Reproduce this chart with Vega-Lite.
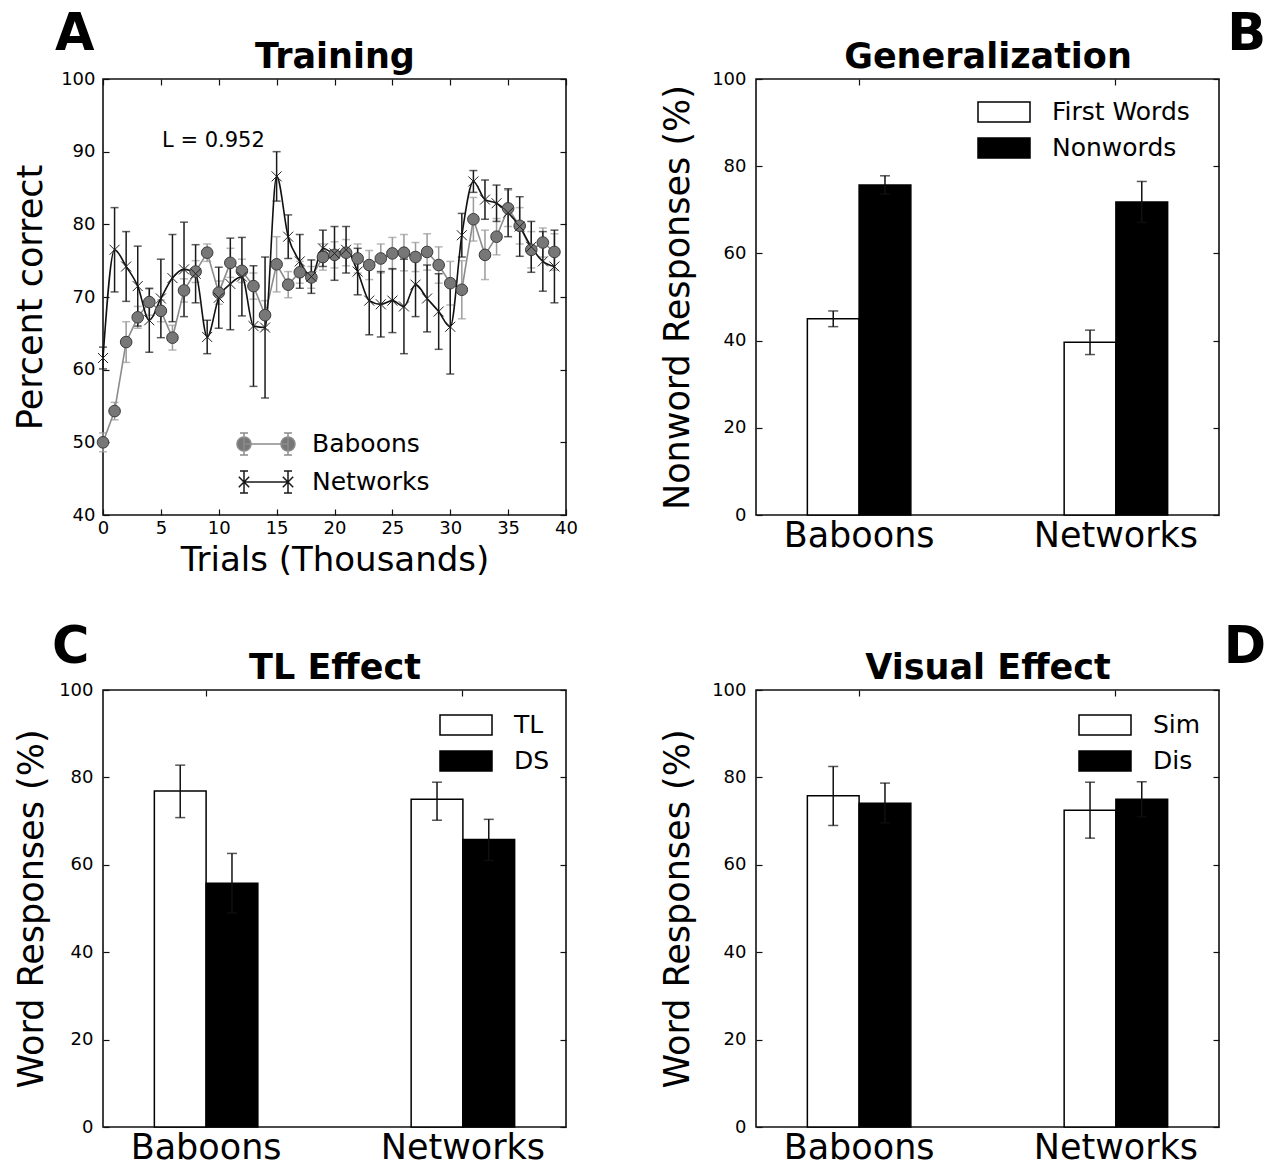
{
  "$schema": "https://vega.github.io/schema/vega-lite/v6.json",
  "background": "white",
  "padding": {"left": 12, "top": 8, "right": 2, "bottom": 2},
  "config": {
    "font": "DejaVu Sans",
    "view": {"stroke": "#111111", "strokeWidth": 1.6},
    "axis": {"domain": false, "grid": false, "tickColor": "#111111", "tickWidth": 1.2, "labelColor": "black", "titleColor": "black", "titleFontWeight": "normal", "labelOverlap": false, "labelFlush": false},
    "title": {"fontSize": 51, "fontWeight": "bold", "color": "black", "offset": 0},
    "legend": {"padding": 0, "labelColor": "black", "labelFont": "DejaVu Sans"}
  },
  "datasets": {
    "training": [
      {"trials": 0, "group": "Baboons", "pct": 50.0, "se": 1.3},
      {"trials": 1, "group": "Baboons", "pct": 54.3, "se": 1.2},
      {"trials": 2, "group": "Baboons", "pct": 63.8, "se": 2.8},
      {"trials": 3, "group": "Baboons", "pct": 67.2, "se": 1.5},
      {"trials": 4, "group": "Baboons", "pct": 69.3, "se": 1.8},
      {"trials": 5, "group": "Baboons", "pct": 68.1, "se": 1.5},
      {"trials": 6, "group": "Baboons", "pct": 64.4, "se": 1.7},
      {"trials": 7, "group": "Baboons", "pct": 70.9, "se": 1.6},
      {"trials": 8, "group": "Baboons", "pct": 73.5, "se": 1.5},
      {"trials": 9, "group": "Baboons", "pct": 76.1, "se": 1.2},
      {"trials": 10, "group": "Baboons", "pct": 70.6, "se": 1.6},
      {"trials": 11, "group": "Baboons", "pct": 74.7, "se": 2.0},
      {"trials": 12, "group": "Baboons", "pct": 73.6, "se": 1.6},
      {"trials": 13, "group": "Baboons", "pct": 71.5, "se": 1.8},
      {"trials": 14, "group": "Baboons", "pct": 67.5, "se": 2.0},
      {"trials": 15, "group": "Baboons", "pct": 74.5, "se": 3.8},
      {"trials": 16, "group": "Baboons", "pct": 71.7, "se": 1.8},
      {"trials": 17, "group": "Baboons", "pct": 73.4, "se": 1.5},
      {"trials": 18, "group": "Baboons", "pct": 72.7, "se": 1.5},
      {"trials": 19, "group": "Baboons", "pct": 75.5, "se": 1.8},
      {"trials": 20, "group": "Baboons", "pct": 75.8, "se": 1.8},
      {"trials": 21, "group": "Baboons", "pct": 76.1, "se": 1.8},
      {"trials": 22, "group": "Baboons", "pct": 75.3, "se": 2.0},
      {"trials": 23, "group": "Baboons", "pct": 74.4, "se": 2.0},
      {"trials": 24, "group": "Baboons", "pct": 75.3, "se": 2.0},
      {"trials": 25, "group": "Baboons", "pct": 76.0, "se": 2.2},
      {"trials": 26, "group": "Baboons", "pct": 76.1, "se": 2.5},
      {"trials": 27, "group": "Baboons", "pct": 75.5, "se": 2.0},
      {"trials": 28, "group": "Baboons", "pct": 76.2, "se": 2.5},
      {"trials": 29, "group": "Baboons", "pct": 74.4, "se": 2.5},
      {"trials": 30, "group": "Baboons", "pct": 71.9, "se": 3.0},
      {"trials": 31, "group": "Baboons", "pct": 71.0, "se": 4.0},
      {"trials": 32, "group": "Baboons", "pct": 80.7, "se": 3.0},
      {"trials": 33, "group": "Baboons", "pct": 75.8, "se": 3.4},
      {"trials": 34, "group": "Baboons", "pct": 78.3, "se": 2.5},
      {"trials": 35, "group": "Baboons", "pct": 82.2, "se": 2.5},
      {"trials": 36, "group": "Baboons", "pct": 79.8, "se": 2.5},
      {"trials": 37, "group": "Baboons", "pct": 76.5, "se": 2.5},
      {"trials": 38, "group": "Baboons", "pct": 77.5, "se": 2.0},
      {"trials": 39, "group": "Baboons", "pct": 76.2, "se": 2.5},
      {"trials": 0, "group": "Networks", "pct": 61.6, "se": 1.5},
      {"trials": 1, "group": "Networks", "pct": 76.5, "se": 5.8},
      {"trials": 2, "group": "Networks", "pct": 74.2, "se": 4.8},
      {"trials": 3, "group": "Networks", "pct": 71.5, "se": 5.5},
      {"trials": 4, "group": "Networks", "pct": 66.8, "se": 4.4},
      {"trials": 5, "group": "Networks", "pct": 69.8, "se": 5.4},
      {"trials": 6, "group": "Networks", "pct": 72.6, "se": 6.0},
      {"trials": 7, "group": "Networks", "pct": 73.8, "se": 6.5},
      {"trials": 8, "group": "Networks", "pct": 73.2, "se": 4.0},
      {"trials": 9, "group": "Networks", "pct": 64.5, "se": 2.3},
      {"trials": 10, "group": "Networks", "pct": 69.9, "se": 4.2},
      {"trials": 11, "group": "Networks", "pct": 71.8, "se": 6.3},
      {"trials": 12, "group": "Networks", "pct": 72.8, "se": 5.4},
      {"trials": 13, "group": "Networks", "pct": 66.0, "se": 8.3},
      {"trials": 14, "group": "Networks", "pct": 65.8, "se": 9.7},
      {"trials": 15, "group": "Networks", "pct": 86.6, "se": 3.4},
      {"trials": 16, "group": "Networks", "pct": 78.3, "se": 3.0},
      {"trials": 17, "group": "Networks", "pct": 74.9, "se": 3.7},
      {"trials": 18, "group": "Networks", "pct": 72.8, "se": 2.3},
      {"trials": 19, "group": "Networks", "pct": 76.7, "se": 2.5},
      {"trials": 20, "group": "Networks", "pct": 76.0, "se": 3.7},
      {"trials": 21, "group": "Networks", "pct": 76.5, "se": 3.2},
      {"trials": 22, "group": "Networks", "pct": 73.5, "se": 3.2},
      {"trials": 23, "group": "Networks", "pct": 69.5, "se": 4.7},
      {"trials": 24, "group": "Networks", "pct": 69.0, "se": 4.5},
      {"trials": 25, "group": "Networks", "pct": 69.5, "se": 4.4},
      {"trials": 26, "group": "Networks", "pct": 68.7, "se": 6.5},
      {"trials": 27, "group": "Networks", "pct": 71.7, "se": 4.4},
      {"trials": 28, "group": "Networks", "pct": 69.8, "se": 4.6},
      {"trials": 29, "group": "Networks", "pct": 68.0, "se": 5.2},
      {"trials": 30, "group": "Networks", "pct": 65.9, "se": 6.5},
      {"trials": 31, "group": "Networks", "pct": 78.5, "se": 3.0},
      {"trials": 32, "group": "Networks", "pct": 85.9, "se": 1.5},
      {"trials": 33, "group": "Networks", "pct": 83.4, "se": 2.7},
      {"trials": 34, "group": "Networks", "pct": 82.9, "se": 2.5},
      {"trials": 35, "group": "Networks", "pct": 81.6, "se": 3.3},
      {"trials": 36, "group": "Networks", "pct": 79.7, "se": 4.1},
      {"trials": 37, "group": "Networks", "pct": 76.9, "se": 3.5},
      {"trials": 38, "group": "Networks", "pct": 74.9, "se": 4.1},
      {"trials": 39, "group": "Networks", "pct": 74.2, "se": 5.0}
    ],
    "note": [{"trials": 5.1, "pct": 91.4, "label": "L = 0.952"}],
    "gen": [
      {"group": "Baboons", "cond": "First Words", "pct": 45.0, "low": 43.2, "high": 46.8},
      {"group": "Baboons", "cond": "Nonwords", "pct": 75.7, "low": 73.6, "high": 77.8},
      {"group": "Networks", "cond": "First Words", "pct": 39.6, "low": 36.8, "high": 42.4},
      {"group": "Networks", "cond": "Nonwords", "pct": 71.8, "low": 67.1, "high": 76.5}
    ],
    "tl": [
      {"group": "Baboons", "cond": "TL", "pct": 76.9, "low": 70.8, "high": 82.8},
      {"group": "Baboons", "cond": "DS", "pct": 55.8, "low": 49.0, "high": 62.6},
      {"group": "Networks", "cond": "TL", "pct": 75.0, "low": 70.2, "high": 78.9},
      {"group": "Networks", "cond": "DS", "pct": 65.8, "low": 61.0, "high": 70.4}
    ],
    "vis": [
      {"group": "Baboons", "cond": "Sim", "pct": 75.8, "low": 69.0, "high": 82.5},
      {"group": "Baboons", "cond": "Dis", "pct": 74.1, "low": 69.6, "high": 78.7},
      {"group": "Networks", "cond": "Sim", "pct": 72.5, "low": 66.1, "high": 78.9},
      {"group": "Networks", "cond": "Dis", "pct": 75.0, "low": 71.0, "high": 79.0}
    ]
  },
  "spacing": 43,
  "resolve": {"scale": {"xOffset": "independent", "fill": "independent", "shape": "independent", "stroke": "independent"}, "legend": {"fill": "independent", "shape": "independent", "stroke": "independent"}},
  "vconcat": [
    {
      "spacing": 80,
      "resolve": {"scale": {"xOffset": "independent", "fill": "independent", "shape": "independent", "stroke": "independent"}, "legend": {"fill": "independent", "shape": "independent", "stroke": "independent"}},
      "hconcat": [
        {
          "width": 463, "height": 436,
          "title": {"text": "A", "anchor": "start", "frame": "group", "dx": -48, "dy": 26},
          "resolve": {"axis": {"x": "independent", "y": "independent"}},
          "layer": [
            {
              "data": {"name": "training"},
              "transform": [{"filter": "datum.group === 'Baboons'"}],
              "mark": {"type": "errorbar", "color": "#9a9a9a", "thickness": 1.5, "ticks": {"size": 8, "thickness": 1.5}},
              "encoding": {
                "x": {"field": "trials", "type": "quantitative", "scale": {"domain": [0, 40], "nice": false, "zero": false},
                      "axis": {"orient": "bottom", "values": [0,5,10,15,20,25,30,35,40], "title": "Trials (Thousands)", "titleFontSize": 34, "labelFontSize": 18, "tickSize": -6, "labelPadding": 10, "titlePadding": 6}},
                "y": {"field": "pct", "type": "quantitative", "scale": {"domain": [40, 100], "nice": false, "zero": false},
                      "axis": {"orient": "left", "values": [40,50,60,70,80,90,100], "title": "Percent correct", "titleFontSize": 35, "labelFontSize": 18, "tickSize": -6, "labelPadding": 14, "titlePadding": 12}},
                "yError": {"field": "se"}
              }
            },
            {
              "data": {"name": "training"},
              "transform": [{"filter": "datum.group === 'Networks'"}],
              "mark": {"type": "errorbar", "color": "#1a1a1a", "thickness": 1.5, "ticks": {"size": 8, "thickness": 1.5}},
              "encoding": {
                "x": {"field": "trials", "type": "quantitative", "axis": null},
                "y": {"field": "pct", "type": "quantitative", "axis": null},
                "yError": {"field": "se"}
              }
            },
            {
              "data": {"name": "training"},
              "transform": [{"filter": "datum.group === 'Baboons'"}],
              "mark": {"type": "line", "color": "#8c8c8c", "strokeWidth": 1.6},
              "encoding": {
                "x": {"field": "trials", "type": "quantitative", "axis": null},
                "y": {"field": "pct", "type": "quantitative", "axis": null}
              }
            },
            {
              "data": {"name": "training"},
              "transform": [{"filter": "datum.group === 'Networks'"}],
              "mark": {"type": "line", "color": "#111111", "strokeWidth": 1.6, "interpolate": "monotone"},
              "encoding": {
                "x": {"field": "trials", "type": "quantitative", "axis": null},
                "y": {"field": "pct", "type": "quantitative", "axis": null}
              }
            },
            {
              "data": {"name": "training"},
              "transform": [{"filter": "datum.group === 'Baboons'"}],
              "mark": {"type": "point", "shape": "circle", "filled": true, "fill": "#777777", "stroke": "#3a3a3a", "strokeWidth": 1, "size": 135, "opacity": 1},
              "encoding": {
                "x": {"field": "trials", "type": "quantitative", "axis": null},
                "y": {"field": "pct", "type": "quantitative", "axis": null}
              }
            },
            {
              "data": {"name": "training"},
              "transform": [{"filter": "datum.group === 'Networks'"}],
              "mark": {"type": "point", "shape": "M-1,-1L1,1M-1,1L1,-1", "filled": false, "stroke": "#222222", "strokeWidth": 1, "size": 100, "opacity": 1},
              "encoding": {
                "x": {"field": "trials", "type": "quantitative", "axis": null},
                "y": {"field": "pct", "type": "quantitative", "axis": null}
              }
            },
            {
              "data": {"name": "note"},
              "mark": {"type": "text", "align": "left", "baseline": "middle", "fontSize": 21, "color": "black"},
              "encoding": {
                "x": {"field": "trials", "type": "quantitative", "axis": null},
                "y": {"field": "pct", "type": "quantitative", "axis": null},
                "text": {"field": "label"}
              }
            },
            {
              "data": {"name": "training"},
              "mark": {"type": "point", "opacity": 0, "filled": true},
              "encoding": {
                "x": {"field": "trials", "type": "quantitative",
                      "axis": {"orient": "top", "values": [0,5,10,15,20,25,30,35,40], "labels": false, "tickSize": -6, "title": "Training", "titleFontSize": 35, "titleFontWeight": "bold", "titlePadding": 4}},
                "y": {"field": "pct", "type": "quantitative",
                      "axis": {"orient": "right", "values": [40,50,60,70,80,90,100], "labels": false, "tickSize": -6, "title": null}},
                "shape": {"field": "group", "type": "nominal",
                          "scale": {"domain": ["Baboons", "Networks"], "range": [
                            "M-1.375,0L1.375,0M-1.375,-0.69L-1.375,0.69M-1.625,-0.69L-1.125,-0.69M-1.625,0.69L-1.125,0.69M1.375,-0.69L1.375,0.69M1.125,-0.69L1.625,-0.69M1.125,0.69L1.625,0.69M-1.815,0A0.44,0.44,0,1,0,-0.935,0A0.44,0.44,0,1,0,-1.815,0ZM0.935,0A0.44,0.44,0,1,0,1.815,0A0.44,0.44,0,1,0,0.935,0Z",
                            "M-1.375,0L1.375,0M-1.375,-0.69L-1.375,0.69M-1.625,-0.69L-1.125,-0.69M-1.625,0.69L-1.125,0.69M1.375,-0.69L1.375,0.69M1.125,-0.69L1.625,-0.69M1.125,0.69L1.625,0.69M-1.7,-0.33L-1.05,0.33M-1.7,0.33L-1.05,-0.33M1.05,-0.33L1.7,0.33M1.05,0.33L1.7,-0.33"]},
                          "legend": {"title": null, "orient": "none", "legendX": 146, "legendY": 348, "symbolSize": 1024, "labelFontSize": 25, "labelOffset": 29, "rowPadding": 6, "symbolOpacity": 1, "symbolStrokeWidth": 1.5}},
                "fill": {"field": "group", "type": "nominal", "scale": {"domain": ["Baboons", "Networks"], "range": ["#777777", "transparent"]}},
                "stroke": {"field": "group", "type": "nominal", "scale": {"domain": ["Baboons", "Networks"], "range": ["#8c8c8c", "#1a1a1a"]}}
              }
            }
          ]
        },
        {
          "width": 463, "height": 436,
          "title": {"text": "B", "anchor": "end", "frame": "group", "dx": 47, "dy": 26},
          "data": {"name": "gen"},
          "resolve": {"axis": {"x": "independent", "y": "independent"}},
          "layer": [
            {
              "mark": {"type": "bar", "stroke": "black", "strokeWidth": 1.5},
              "encoding": {
                "x": {"field": "group", "type": "nominal", "sort": ["Baboons", "Networks"], "scale": {"paddingInner": 0.597, "paddingOuter": 0.2},
                      "axis": {"orient": "bottom", "title": null, "labelFontSize": 35, "labelAngle": 0, "tickSize": -6, "labelPadding": 9}},
                "xOffset": {"field": "cond", "type": "nominal", "sort": ["First Words", "Nonwords"], "scale": {"paddingInner": 0, "paddingOuter": 0}},
                "y": {"field": "pct", "type": "quantitative", "scale": {"domain": [0, 100], "nice": false},
                      "axis": {"orient": "left", "values": [0,20,40,60,80,100], "title": "Nonword Responses (%)", "titleFontSize": 35, "labelFontSize": 18, "tickSize": -6, "labelPadding": 16, "titlePadding": 16}},
                "fill": {"field": "cond", "type": "nominal", "sort": ["First Words", "Nonwords"], "scale": {"domain": ["First Words", "Nonwords"], "range": ["white", "black"]},
                         "legend": {"title": null, "orient": "none", "legendX": 231, "legendY": 16, "symbolType": "M-1.625,-0.625H1.625V0.625H-1.625Z", "symbolSize": 1024, "symbolStrokeColor": "black", "symbolStrokeWidth": 1.5, "labelFontSize": 25, "labelOffset": 31, "rowPadding": 6}}
              }
            },
            {
              "mark": {"type": "rule", "color": "#111111", "strokeWidth": 1.5},
              "encoding": {
                "x": {"field": "group", "type": "nominal", "sort": ["Baboons", "Networks"], "axis": null},
                "xOffset": {"field": "cond", "type": "nominal", "sort": ["First Words", "Nonwords"]},
                "y": {"field": "low", "type": "quantitative", "axis": null},
                "y2": {"field": "high"}
              }
            },
            {
              "mark": {"type": "tick", "orient": "horizontal", "color": "#111111", "thickness": 1.5, "size": 10},
              "encoding": {
                "x": {"field": "group", "type": "nominal", "sort": ["Baboons", "Networks"], "axis": null},
                "xOffset": {"field": "cond", "type": "nominal", "sort": ["First Words", "Nonwords"]},
                "y": {"field": "low", "type": "quantitative", "axis": null}
              }
            },
            {
              "mark": {"type": "tick", "orient": "horizontal", "color": "#111111", "thickness": 1.5, "size": 10},
              "encoding": {
                "x": {"field": "group", "type": "nominal", "sort": ["Baboons", "Networks"],
                      "axis": {"orient": "top", "labels": false, "tickSize": -6, "title": "Generalization", "titleFontSize": 35, "titleFontWeight": "bold", "titlePadding": 4}},
                "xOffset": {"field": "cond", "type": "nominal", "sort": ["First Words", "Nonwords"]},
                "y": {"field": "high", "type": "quantitative",
                      "axis": {"orient": "right", "values": [0,20,40,60,80,100], "labels": false, "tickSize": -6, "title": null}}
              }
            }
          ]
        }
      ]
    },
    {
      "spacing": 91,
      "resolve": {"scale": {"xOffset": "independent", "fill": "independent"}, "legend": {"fill": "independent"}},
      "hconcat": [
        {
          "width": 463, "height": 437,
          "title": {"text": "C", "anchor": "start", "frame": "group", "dx": -51, "dy": 28},
          "data": {"name": "tl"},
          "resolve": {"axis": {"x": "independent", "y": "independent"}},
          "layer": [
            {
              "mark": {"type": "bar", "stroke": "black", "strokeWidth": 1.5},
              "encoding": {
                "x": {"field": "group", "type": "nominal", "sort": ["Baboons", "Networks"], "scale": {"paddingInner": 0.597, "paddingOuter": 0.2},
                      "axis": {"orient": "bottom", "title": null, "labelFontSize": 35, "labelAngle": 0, "tickSize": -6, "labelPadding": 9}},
                "xOffset": {"field": "cond", "type": "nominal", "sort": ["TL", "DS"], "scale": {"paddingInner": 0, "paddingOuter": 0}},
                "y": {"field": "pct", "type": "quantitative", "scale": {"domain": [0, 100], "nice": false},
                      "axis": {"orient": "left", "values": [0,20,40,60,80,100], "title": "Word Responses (%)", "titleFontSize": 35, "labelFontSize": 18, "tickSize": -6, "labelPadding": 16, "titlePadding": 9}},
                "fill": {"field": "cond", "type": "nominal", "sort": ["TL", "DS"], "scale": {"domain": ["TL", "DS"], "range": ["white", "black"]},
                         "legend": {"title": null, "orient": "none", "legendX": 346, "legendY": 18, "symbolType": "M-1.625,-0.625H1.625V0.625H-1.625Z", "symbolSize": 1024, "symbolStrokeColor": "black", "symbolStrokeWidth": 1.5, "labelFontSize": 25, "labelOffset": 31, "rowPadding": 6}}
              }
            },
            {
              "mark": {"type": "rule", "color": "#111111", "strokeWidth": 1.5},
              "encoding": {
                "x": {"field": "group", "type": "nominal", "sort": ["Baboons", "Networks"], "axis": null},
                "xOffset": {"field": "cond", "type": "nominal", "sort": ["TL", "DS"]},
                "y": {"field": "low", "type": "quantitative", "axis": null},
                "y2": {"field": "high"}
              }
            },
            {
              "mark": {"type": "tick", "orient": "horizontal", "color": "#111111", "thickness": 1.5, "size": 10},
              "encoding": {
                "x": {"field": "group", "type": "nominal", "sort": ["Baboons", "Networks"], "axis": null},
                "xOffset": {"field": "cond", "type": "nominal", "sort": ["TL", "DS"]},
                "y": {"field": "low", "type": "quantitative", "axis": null}
              }
            },
            {
              "mark": {"type": "tick", "orient": "horizontal", "color": "#111111", "thickness": 1.5, "size": 10},
              "encoding": {
                "x": {"field": "group", "type": "nominal", "sort": ["Baboons", "Networks"],
                      "axis": {"orient": "top", "labels": false, "tickSize": -6, "title": "TL Effect", "titleFontSize": 35, "titleFontWeight": "bold", "titlePadding": 4}},
                "xOffset": {"field": "cond", "type": "nominal", "sort": ["TL", "DS"]},
                "y": {"field": "high", "type": "quantitative",
                      "axis": {"orient": "right", "values": [0,20,40,60,80,100], "labels": false, "tickSize": -6, "title": null}}
              }
            }
          ]
        },
        {
          "width": 463, "height": 437,
          "title": {"text": "D", "anchor": "end", "frame": "group", "dx": 47, "dy": 28},
          "data": {"name": "vis"},
          "resolve": {"axis": {"x": "independent", "y": "independent"}},
          "layer": [
            {
              "mark": {"type": "bar", "stroke": "black", "strokeWidth": 1.5},
              "encoding": {
                "x": {"field": "group", "type": "nominal", "sort": ["Baboons", "Networks"], "scale": {"paddingInner": 0.597, "paddingOuter": 0.2},
                      "axis": {"orient": "bottom", "title": null, "labelFontSize": 35, "labelAngle": 0, "tickSize": -6, "labelPadding": 9}},
                "xOffset": {"field": "cond", "type": "nominal", "sort": ["Sim", "Dis"], "scale": {"paddingInner": 0, "paddingOuter": 0}},
                "y": {"field": "pct", "type": "quantitative", "scale": {"domain": [0, 100], "nice": false},
                      "axis": {"orient": "left", "values": [0,20,40,60,80,100], "title": "Word Responses (%)", "titleFontSize": 35, "labelFontSize": 18, "tickSize": -6, "labelPadding": 16, "titlePadding": 16}},
                "fill": {"field": "cond", "type": "nominal", "sort": ["Sim", "Dis"], "scale": {"domain": ["Sim", "Dis"], "range": ["white", "black"]},
                         "legend": {"title": null, "orient": "none", "legendX": 332, "legendY": 18, "symbolType": "M-1.625,-0.625H1.625V0.625H-1.625Z", "symbolSize": 1024, "symbolStrokeColor": "black", "symbolStrokeWidth": 1.5, "labelFontSize": 25, "labelOffset": 31, "rowPadding": 6}}
              }
            },
            {
              "mark": {"type": "rule", "color": "#111111", "strokeWidth": 1.5},
              "encoding": {
                "x": {"field": "group", "type": "nominal", "sort": ["Baboons", "Networks"], "axis": null},
                "xOffset": {"field": "cond", "type": "nominal", "sort": ["Sim", "Dis"]},
                "y": {"field": "low", "type": "quantitative", "axis": null},
                "y2": {"field": "high"}
              }
            },
            {
              "mark": {"type": "tick", "orient": "horizontal", "color": "#111111", "thickness": 1.5, "size": 10},
              "encoding": {
                "x": {"field": "group", "type": "nominal", "sort": ["Baboons", "Networks"], "axis": null},
                "xOffset": {"field": "cond", "type": "nominal", "sort": ["Sim", "Dis"]},
                "y": {"field": "low", "type": "quantitative", "axis": null}
              }
            },
            {
              "mark": {"type": "tick", "orient": "horizontal", "color": "#111111", "thickness": 1.5, "size": 10},
              "encoding": {
                "x": {"field": "group", "type": "nominal", "sort": ["Baboons", "Networks"],
                      "axis": {"orient": "top", "labels": false, "tickSize": -6, "title": "Visual Effect", "titleFontSize": 35, "titleFontWeight": "bold", "titlePadding": 4}},
                "xOffset": {"field": "cond", "type": "nominal", "sort": ["Sim", "Dis"]},
                "y": {"field": "high", "type": "quantitative",
                      "axis": {"orient": "right", "values": [0,20,40,60,80,100], "labels": false, "tickSize": -6, "title": null}}
              }
            }
          ]
        }
      ]
    }
  ]
}
